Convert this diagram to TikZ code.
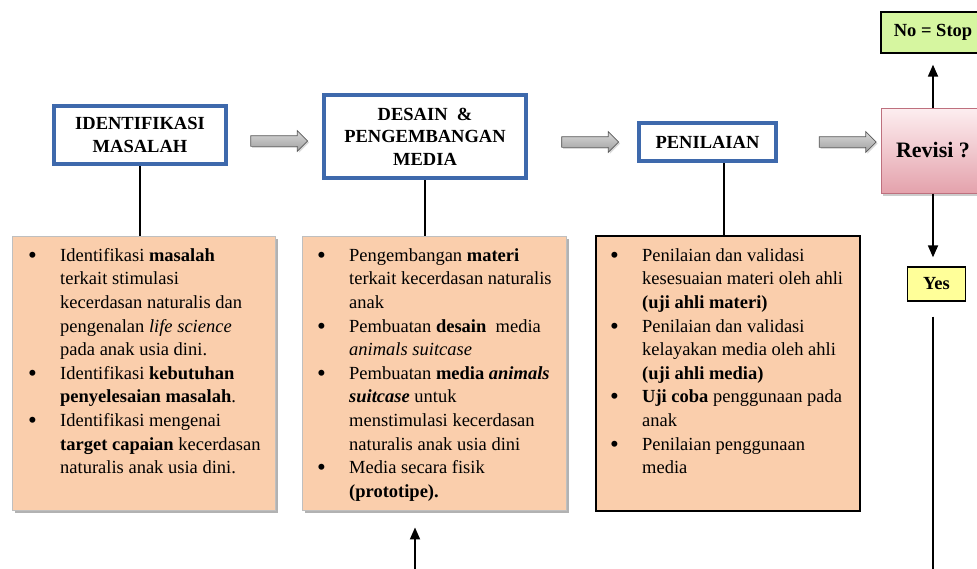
\documentclass[tikz,border=0pt]{standalone}
\usepackage{fontspec}
\setmainfont{Liberation Serif}
\usetikzlibrary{shapes.arrows,shadows,arrows.meta}
\definecolor{blueB}{RGB}{62,105,172}
\definecolor{peach}{RGB}{250,206,172}
\definecolor{greenN}{RGB}{214,246,160}
\definecolor{yellowY}{RGB}{255,255,153}
\definecolor{pinkTop}{RGB}{253,238,240}
\definecolor{pinkBot}{RGB}{228,162,172}
\definecolor{pinkLine}{RGB}{190,112,126}
\newcommand{\bigbul}{\raisebox{-2pt}{\scalebox{1.35}{\textbullet}}}
\begin{document}
\begin{tikzpicture}[x=1pt,y=-1pt,
  hdr/.style={draw=blueB, line width=4pt, fill=white, align=center, inner sep=0pt,
    font=\bfseries\fontsize{18.5}{22.5}\selectfont},
  detail/.style={fill=peach, inner sep=0pt},
  soft/.style={draw=gray!50, line width=0.9pt, drop shadow={shadow xshift=2.5pt, shadow yshift=-2.5pt, opacity=0.5, fill=gray!80!black}},
  body/.style={anchor=north west, inner sep=0pt, font=\fontsize{18.5}{23.6}\selectfont},
  garrow/.style={single arrow, single arrow head extend=5pt, single arrow head indent=0pt,
    inner sep=5pt, minimum height=57pt, shading=axis, top color=gray!30, middle color=gray!8,
    bottom color=gray!75, draw=gray!70!black, line width=0.7pt,
    drop shadow={shadow xshift=1.5pt, shadow yshift=-1.5pt, opacity=0.3}},
  conn/.style={line width=1.8pt},
  arr/.style={line width=1.8pt, -{Triangle[length=12pt,width=10pt]}},
  sbox/.style={draw=black, line width=1.3pt, inner sep=0pt, font=\bfseries\fontsize{18.5}{22}\selectfont}
]
\useasboundingbox (0,0) rectangle (977,568);
\clip (0,0) rectangle (977,568);

% header boxes
\node[hdr, minimum width=172pt, minimum height=58pt] (h1) at (140,135) {IDENTIFIKASI\\MASALAH};
\node[hdr, minimum width=202pt, minimum height=83pt] (h2) at (425,136.5) {DESAIN\ \ \&\\PENGEMBANGAN\\MEDIA};
\node[hdr, minimum width=137pt, minimum height=38pt] (h3) at (707.5,142) {PENILAIAN};

% revisi
\node[draw=pinkLine, line width=1pt, shading=axis, top color=pinkTop, bottom color=pinkBot,
  minimum width=104pt, minimum height=85pt, inner sep=0pt,
  drop shadow={shadow xshift=2pt, shadow yshift=-2.5pt, opacity=0.4},
  font=\bfseries\fontsize{22}{26}\selectfont] (rev) at (933,150.5) {Revisi ?};
\node[sbox, fill=greenN, minimum width=104pt, minimum height=41pt] (no) at (933,32.5) {No = Stop};
\node[sbox, fill=yellowY, minimum width=58pt, minimum height=34pt] (yes) at (936.5,284) {Yes};

% gray block arrows
\node[garrow] (g1) at (276.5,141) {};
\node[garrow] (g2) at (587.5,142) {};
\node[garrow] (g3) at (845,142) {};

% detail boxes
\node[detail, soft, minimum width=263pt, minimum height=274pt] (dA) at (143.5,373) {};
\node[detail, soft, minimum width=264pt, minimum height=274pt] (dB) at (434,373) {};
\node[detail, draw=black, line width=1.3pt, minimum width=264pt, minimum height=275pt] (dC) at (728,373.5) {};

% vertical connectors
\draw[conn] (h1.south) -- (h1.south |- dA.north);
\draw[conn] (h2.south) -- (h2.south |- dB.north);
\draw[conn] (dC.north -| 724,0) -- (724,0 |- h3.south);

% texts
\node[body] (tA) at (28,244.5) {\begin{tabular}{@{}p{32pt}@{}l@{}}
\bigbul & Identifikasi \textbf{masalah}\\
 & terkait stimulasi\\
 & kecerdasan naturalis dan\\
 & pengenalan \textit{life science}\\
 & pada anak usia dini.\\
\bigbul & Identifikasi \textbf{kebutuhan}\\
 & \textbf{penyelesaian masalah}.\\
\bigbul & Identifikasi mengenai\\
 & \textbf{target capaian} kecerdasan\\
 & naturalis anak usia dini.
\end{tabular}};

\node[body] (tB) at (317,244.5) {\begin{tabular}{@{}p{32pt}@{}l@{}}
\bigbul & Pengembangan \textbf{materi}\\
 & terkait kecerdasan naturalis\\
 & anak\\
\bigbul & Pembuatan \textbf{desain}\ \ media\\
 & \textit{animals suitcase}\\
\bigbul & Pembuatan \textbf{media \textit{animals}}\\
 & \textbf{\textit{suitcase}} untuk\\
 & menstimulasi kecerdasan\\
 & naturalis anak usia dini\\
\bigbul & Media secara fisik\\
 & \textbf{(prototipe).}
\end{tabular}};

\node[body] (tC) at (610,244.5) {\begin{tabular}{@{}p{32pt}@{}l@{}}
\bigbul & Penilaian dan validasi\\
 & kesesuaian materi oleh ahli\\
 & \textbf{(uji ahli materi)}\\
\bigbul & Penilaian dan validasi\\
 & kelayakan media oleh ahli\\
 & \textbf{(uji ahli media)}\\
\bigbul & \textbf{Uji coba} penggunaan pada\\
 & anak\\
\bigbul & Penilaian penggunaan\\
 & media
\end{tabular}};

% revisi arrows
\draw[arr, shorten >=11pt] (rev.north) -- (no.south);
\draw[arr, shorten >=9pt] (rev.south) -- (rev.south |- yes.north);
\coordinate (yend) at (933,570);
\draw[conn, shorten <=15pt] (yes.south -| rev.south) -- (yend);
\coordinate (bstart) at (415,570);
\draw[arr, shorten >=17pt] (bstart) -- (bstart |- dB.south);
\end{tikzpicture}
\end{document}
